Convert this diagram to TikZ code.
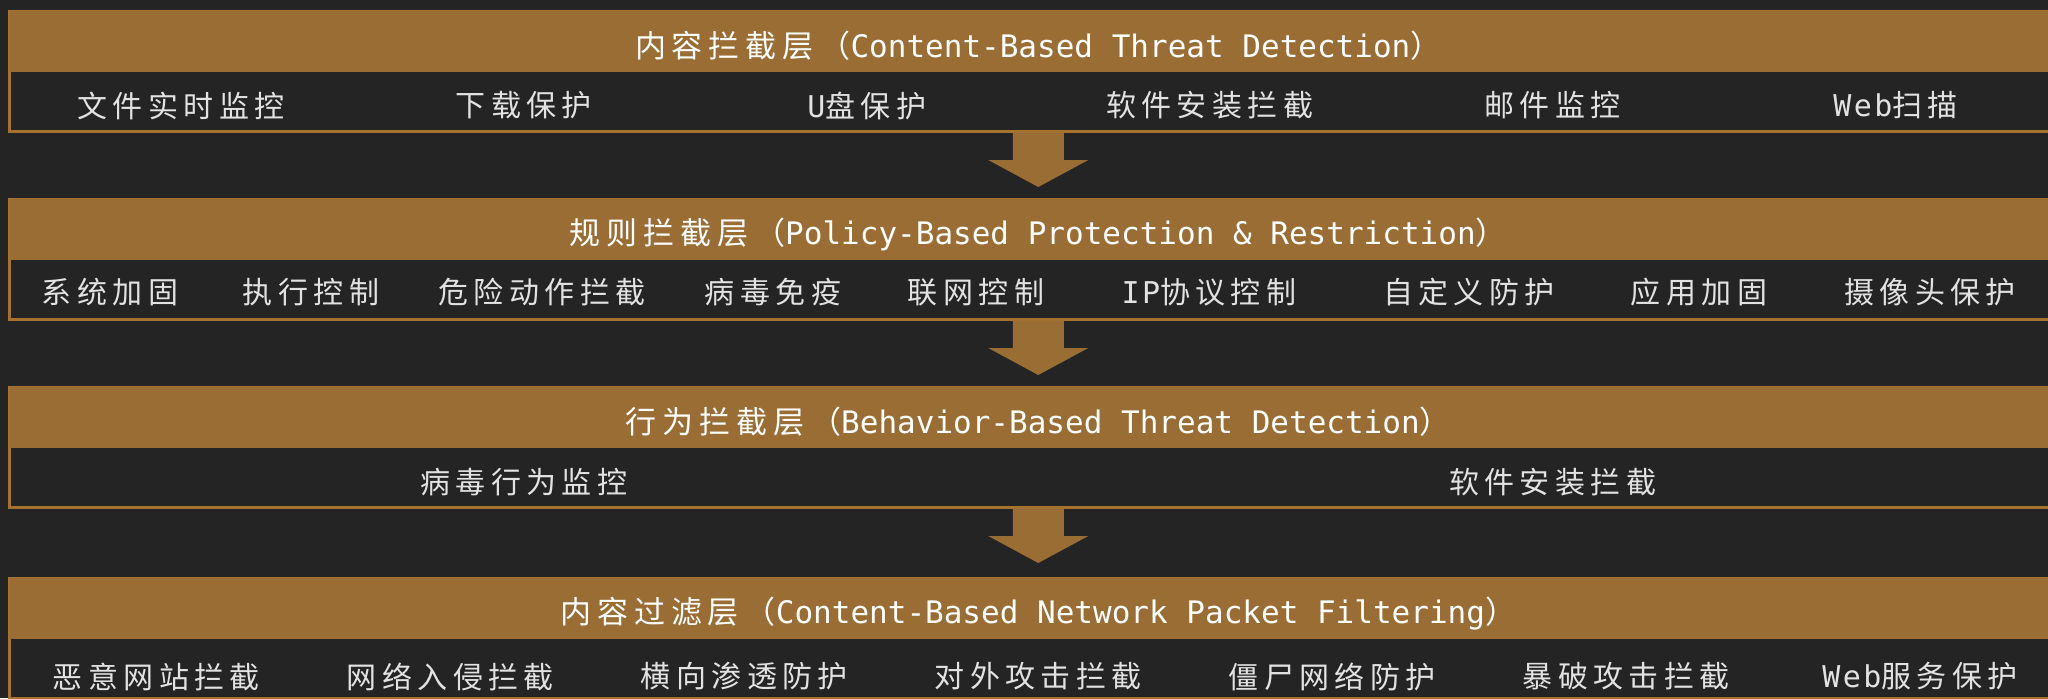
\documentclass[tikz,border=0pt]{standalone}
\usepackage{fontspec}
\setmainfont{Noto Sans CJK SC}
\newfontfamily\headfont[LetterSpace=19]{Noto Sans CJK SC}
\newfontfamily\itemfont[LetterSpace=18]{Noto Sans CJK SC}
\newfontfamily\monofont{DejaVu Sans Mono}
\newfontfamily\itemmono[LetterSpace=8]{DejaVu Sans Mono}
\newcommand\lat[1]{{\monofont #1}}
\newcommand\ilat[1]{{\itemmono #1}}
\usetikzlibrary{calc}

\definecolor{bgdark}{HTML}{242424}
\definecolor{bandbrown}{HTML}{9A6D35}
\definecolor{edgebrown}{HTML}{A5722F}
\definecolor{itemgray}{HTML}{E2E2E2}

\begin{document}
\begin{tikzpicture}[x=0.5pt, y=-0.5pt,
    layerbox/.style={draw=edgebrown, line width=1.5pt, fill=bgdark, anchor=north west,
        minimum width=1028.75pt, minimum height=60pt, inner sep=0pt, outer sep=0pt},
    headtext/.style={text=white, font=\headfont\fontsize{15.5pt}{18pt}\selectfont, inner sep=0pt},
    itemtext/.style={text=itemgray, font=\itemfont\fontsize{15pt}{17pt}\selectfont, inner sep=0pt},
    blockarrow/.style={fill=bandbrown}]

    % --- Canvas ---
    \useasboundingbox (0,0) rectangle (2048,698);
    \fill[bgdark] (0,0) rectangle (2048,698);

    % --- Layers ---
    \node[layerbox] (layer1) at (9.5,11) {};
    \node[layerbox] (layer2) at (9.5,199) {};
    \node[layerbox] (layer3) at (9.5,387) {};
    \node[layerbox] (layer4) at (9.5,578) {};

    % title bands
    \foreach \n in {1,...,4}
        \fill[bandbrown] (layer\n.north west) rectangle ($(layer\n.north east)+(0,61)$);

    % --- Arrows between layers ---
    \foreach \a in {1,2,3}
        \fill[blockarrow] ($(layer\a.south)+(-25.5,1.5)$) -- ($(layer\a.south)+(25.5,1.5)$)
            -- ($(layer\a.south)+(25.5,29)$) -- ($(layer\a.south)+(50,29)$)
            -- ($(layer\a.south)+(0,56)$)
            -- ($(layer\a.south)+(-50,29)$) -- ($(layer\a.south)+(-25.5,29)$) -- cycle;

    % --- Titles ---
    \node[headtext] (head1) at ($(layer1.north)+(0,35)$) {内容拦截层（\lat{Content-Based Threat Detection}）};
    \node[headtext] (head2) at ($(layer2.north)+(0,35)$) {规则拦截层（\lat{Policy-Based Protection \& Restriction}）};
    \node[headtext] (head3) at ($(layer3.north)+(0,35)$) {行为拦截层（\lat{Behavior-Based Threat Detection}）};
    \node[headtext] (head4) at ($(layer4.north)+(0,36)$) {内容过滤层（\lat{Content-Based Network Packet Filtering}）};

    % --- Items ---
    % layer 1: six equal cells
    \foreach \txt [count=\i] in {文件实时监控, 下载保护, \ilat{U}盘保护, 软件安装拦截, 邮件监控, \ilat{Web}扫描}
        \node[itemtext] (l1item\i) at ({9.5+2057.5*(\i-0.5)/6}, 105.5) {\txt};

    % layer 2: positions
    \foreach \txt/\xpos [count=\i] in {系统加固/110, 执行控制/311, 危险动作拦截/542, 病毒免疫/773,
            联网控制/976, \ilat{IP}协议控制/1209, 自定义防护/1469, 应用加固/1699, 摄像头保护/1930}
        \node[itemtext] (l2item\i) at (\xpos, 292.5) {\txt};

    % layer 3: two equal cells
    \foreach \txt [count=\i] in {病毒行为监控, 软件安装拦截}
        \node[itemtext] (l3item\i) at ({9.5+2057.5*(\i-0.5)/2}, 482) {\txt};

    % layer 4: seven equal cells
    \foreach \txt [count=\i] in {恶意网站拦截, 网络入侵拦截, 横向渗透防护, 对外攻击拦截, 僵尸网络防护, 暴破攻击拦截, \ilat{Web}服务保护}
        \node[itemtext] (l4item\i) at ({9.5+2057.5*(\i-0.5)/7}, 676.5) {\txt};

\end{tikzpicture}
\end{document}
